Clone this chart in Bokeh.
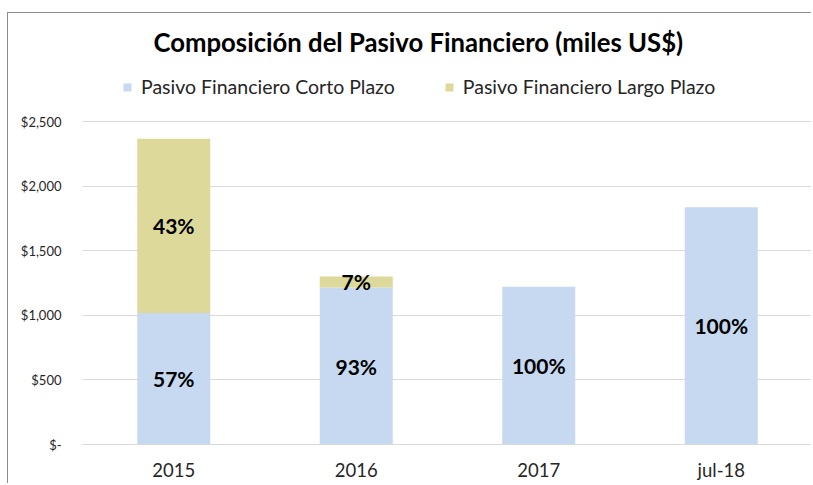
from bokeh.plotting import figure
from bokeh.models import ColumnDataSource, Legend, LegendItem, FixedTicker, Range1d, FactorRange
from bokeh.core.properties import value
from bokeh.embed import file_html
from bokeh.resources import INLINE

# ---- data ----
years = ["2015", "2016", "2017", "jul-18"]
corto = [1017, 1215, 1221, 1836]
largo = [1349, 86, 0, 0]
pct_corto = ["57%", "93%", "100%", "100%"]
pct_largo = ["43%", "7%", "", ""]
y_ticks = [0, 500, 1000, 1500, 2000, 2500]
y_tick_labels = ["$-", "$500", "$1,000", "$1,500", "$2,000", "$2,500"]
series_names = ["Pasivo Financiero Corto Plazo", "Pasivo Financiero Largo Plazo"]
colors = ["#C6D9F0", "#DDD99B"]

FONT = "Lato"

src = ColumnDataSource(dict(
    year=years, corto=corto, largo=largo,
    pct_corto=pct_corto, pct_largo=pct_largo,
    y_corto=[c / 2 for c in corto],
    y_largo=[c + l / 2 for c, l in zip(corto, largo)],
))

p = figure(x_range=FactorRange(*years), y_range=Range1d(0, 2949),
           width=804, height=471, output_backend="svg", toolbar_location=None,
           min_border_left=74, min_border_right=0, min_border_bottom=40, min_border_top=50)
p.styles = {"border-left": "1px solid #8c8c8c", "border-top": "1px solid #8c8c8c",
            "margin-top": "12px", "margin-left": "7px"}

renderers = p.vbar_stack(["corto", "largo"], x="year", width=0.4, color=colors,
                         line_color=None, source=src)

for col, ycol in (("pct_corto", "y_corto"), ("pct_largo", "y_largo")):
    p.text(x="year", y=ycol, text=col, source=src, text_align="center",
           text_baseline="middle", text_font=value(FONT), text_font_style="bold",
           text_font_size="21px", text_color="black")

# title
p.title.text = "Composición del Pasivo Financiero (miles US$)"
p.title.text_font = FONT
p.title.text_font_style = "bold"
p.title.text_font_size = "25.7px"
p.title.align = "left"
p.title.offset = 71
p.title.standoff = 14
p.title.text_color = "black"

legend = Legend(items=[LegendItem(label=n, renderers=[r]) for n, r in zip(series_names, renderers)],
                orientation="horizontal", location=(40, 346),
                label_text_font=FONT, label_text_font_size="19.5px", label_text_color="#262626",
                glyph_width=10, glyph_height=10, label_standoff=9, spacing=49,
                padding=0, margin=0, border_line_color=None, background_fill_alpha=0)
p.add_layout(legend)

# axes
p.yaxis.ticker = FixedTicker(ticks=y_ticks)
p.yaxis.major_label_overrides = {t: l for t, l in zip(y_ticks, y_tick_labels)}
p.yaxis.axis_line_color = None
p.yaxis.major_tick_line_color = None
p.yaxis.minor_tick_line_color = None
p.yaxis.major_label_text_font = FONT
p.yaxis.major_label_text_font_size = "13px"
p.yaxis.major_label_text_color = "#262626"
p.yaxis.major_label_standoff = 15

p.xaxis.axis_line_color = "#d9d9d9"
p.xaxis.major_tick_line_color = None
p.xaxis.minor_tick_line_color = None
p.xaxis.major_label_text_font = FONT
p.xaxis.major_label_text_font_size = "18.5px"
p.xaxis.major_label_text_color = "#262626"
p.xaxis.major_label_standoff = 8

p.xgrid.grid_line_color = None
p.ygrid.grid_line_color = "#d9d9d9"
p.outline_line_color = None

open("out.html", "w").write(file_html(p, INLINE))
